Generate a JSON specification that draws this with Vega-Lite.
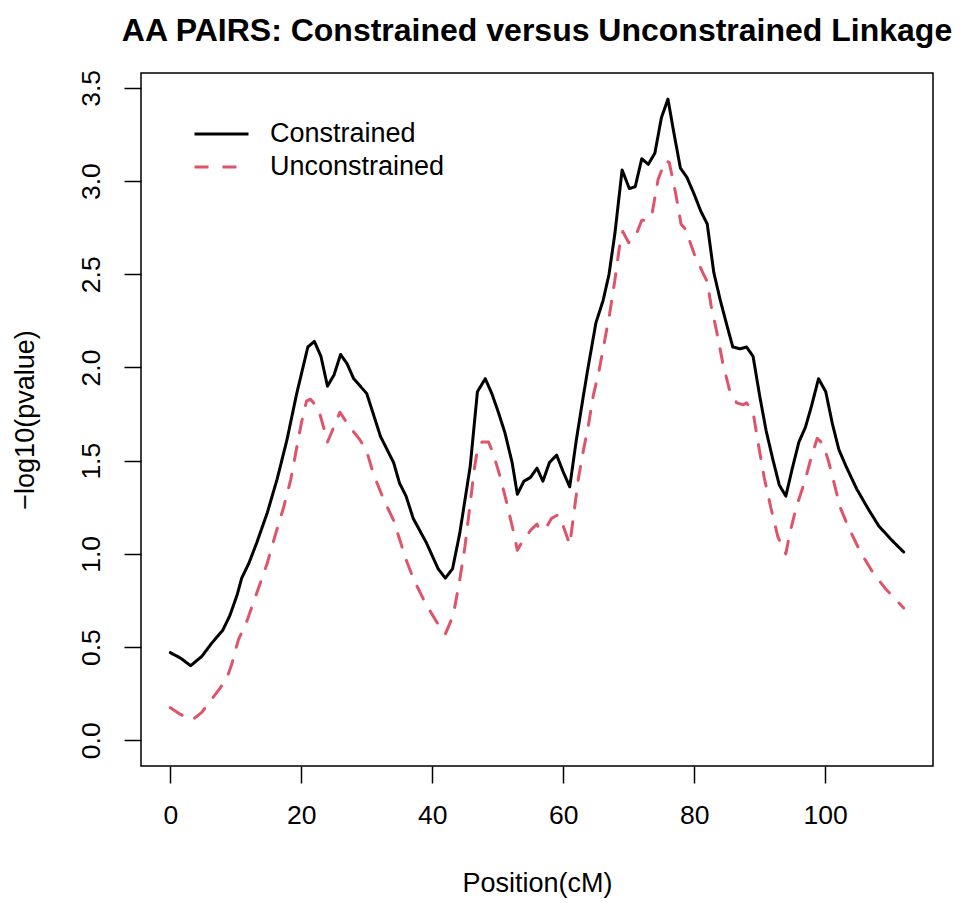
{
  "$schema": "https://vega.github.io/schema/vega-lite/v6.json",
  "width": 792,
  "height": 693,
  "autosize": "none",
  "padding": {"left": 141, "top": 73, "right": 35, "bottom": 137},
  "background": "white",
  "title": {
    "text": "AA PAIRS: Constrained versus Unconstrained Linkage",
    "font": "Liberation Sans",
    "fontSize": 32,
    "fontWeight": "bold",
    "color": "black",
    "anchor": "middle",
    "baseline": "alphabetic",
    "offset": 32,
    "dy": 36
  },
  "config": {
    "view": {"stroke": "black", "strokeWidth": 1.5},
    "axis": {
      "grid": false,
      "domain": false,
      "tickColor": "black",
      "tickWidth": 1.5,
      "tickSize": 17,
      "labelFont": "Liberation Sans",
      "labelFontSize": 26.5,
      "labelColor": "black",
      "titleFont": "Liberation Sans",
      "titleFontSize": 27,
      "titleFontWeight": "normal",
      "titleColor": "black"
    },
    "legend": {
      "orient": "none",
      "legendX": 65.5,
      "legendY": 46,
      "padding": 0,
      "symbolType": "M-2,0H2",
      "symbolSize": 729,
      "symbolStrokeWidth": 3,
      "labelFont": "Liberation Sans",
      "labelFontSize": 27,
      "labelColor": "black",
      "labelOffset": 33.5,
      "labelLimit": 400,
      "rowPadding": 5
    }
  },
  "data": {
    "values": [
      {"pos": 0, "val": 0.47, "series": "Constrained"},
      {"pos": 1.6, "val": 0.44, "series": "Constrained"},
      {"pos": 3.1, "val": 0.40, "series": "Constrained"},
      {"pos": 4.8, "val": 0.45, "series": "Constrained"},
      {"pos": 6.3, "val": 0.52, "series": "Constrained"},
      {"pos": 8.0, "val": 0.59, "series": "Constrained"},
      {"pos": 9.1, "val": 0.67, "series": "Constrained"},
      {"pos": 10.2, "val": 0.78, "series": "Constrained"},
      {"pos": 10.9, "val": 0.87, "series": "Constrained"},
      {"pos": 12.0, "val": 0.95, "series": "Constrained"},
      {"pos": 13.2, "val": 1.06, "series": "Constrained"},
      {"pos": 14.8, "val": 1.22, "series": "Constrained"},
      {"pos": 16.3, "val": 1.40, "series": "Constrained"},
      {"pos": 17.8, "val": 1.61, "series": "Constrained"},
      {"pos": 19.3, "val": 1.86, "series": "Constrained"},
      {"pos": 21.0, "val": 2.11, "series": "Constrained"},
      {"pos": 22.0, "val": 2.14, "series": "Constrained"},
      {"pos": 23.0, "val": 2.06, "series": "Constrained"},
      {"pos": 24.0, "val": 1.90, "series": "Constrained"},
      {"pos": 25.0, "val": 1.96, "series": "Constrained"},
      {"pos": 26.0, "val": 2.07, "series": "Constrained"},
      {"pos": 27.0, "val": 2.02, "series": "Constrained"},
      {"pos": 28.0, "val": 1.94, "series": "Constrained"},
      {"pos": 30.0, "val": 1.86, "series": "Constrained"},
      {"pos": 32.1, "val": 1.63, "series": "Constrained"},
      {"pos": 34.1, "val": 1.49, "series": "Constrained"},
      {"pos": 35.0, "val": 1.38, "series": "Constrained"},
      {"pos": 36.0, "val": 1.31, "series": "Constrained"},
      {"pos": 37.1, "val": 1.19, "series": "Constrained"},
      {"pos": 39.1, "val": 1.06, "series": "Constrained"},
      {"pos": 40.9, "val": 0.92, "series": "Constrained"},
      {"pos": 42.0, "val": 0.87, "series": "Constrained"},
      {"pos": 43.1, "val": 0.92, "series": "Constrained"},
      {"pos": 44.2, "val": 1.11, "series": "Constrained"},
      {"pos": 45.8, "val": 1.47, "series": "Constrained"},
      {"pos": 46.9, "val": 1.87, "series": "Constrained"},
      {"pos": 48.1, "val": 1.94, "series": "Constrained"},
      {"pos": 49.1, "val": 1.86, "series": "Constrained"},
      {"pos": 50.1, "val": 1.76, "series": "Constrained"},
      {"pos": 51.1, "val": 1.65, "series": "Constrained"},
      {"pos": 52.2, "val": 1.49, "series": "Constrained"},
      {"pos": 53.0, "val": 1.32, "series": "Constrained"},
      {"pos": 54.0, "val": 1.39, "series": "Constrained"},
      {"pos": 55.0, "val": 1.41, "series": "Constrained"},
      {"pos": 56.0, "val": 1.46, "series": "Constrained"},
      {"pos": 56.9, "val": 1.39, "series": "Constrained"},
      {"pos": 57.9, "val": 1.49, "series": "Constrained"},
      {"pos": 59.0, "val": 1.53, "series": "Constrained"},
      {"pos": 60.0, "val": 1.44, "series": "Constrained"},
      {"pos": 61.0, "val": 1.36, "series": "Constrained"},
      {"pos": 62.0, "val": 1.61, "series": "Constrained"},
      {"pos": 63.0, "val": 1.83, "series": "Constrained"},
      {"pos": 63.8, "val": 2.00, "series": "Constrained"},
      {"pos": 65.0, "val": 2.24, "series": "Constrained"},
      {"pos": 66.1, "val": 2.36, "series": "Constrained"},
      {"pos": 67.0, "val": 2.50, "series": "Constrained"},
      {"pos": 67.9, "val": 2.72, "series": "Constrained"},
      {"pos": 69.0, "val": 3.06, "series": "Constrained"},
      {"pos": 70.1, "val": 2.96, "series": "Constrained"},
      {"pos": 71.0, "val": 2.97, "series": "Constrained"},
      {"pos": 72.0, "val": 3.12, "series": "Constrained"},
      {"pos": 73.0, "val": 3.09, "series": "Constrained"},
      {"pos": 74.0, "val": 3.15, "series": "Constrained"},
      {"pos": 75.0, "val": 3.34, "series": "Constrained"},
      {"pos": 76.0, "val": 3.44, "series": "Constrained"},
      {"pos": 76.9, "val": 3.26, "series": "Constrained"},
      {"pos": 77.9, "val": 3.07, "series": "Constrained"},
      {"pos": 78.9, "val": 3.02, "series": "Constrained"},
      {"pos": 80.0, "val": 2.93, "series": "Constrained"},
      {"pos": 81.0, "val": 2.84, "series": "Constrained"},
      {"pos": 82.0, "val": 2.77, "series": "Constrained"},
      {"pos": 83.0, "val": 2.51, "series": "Constrained"},
      {"pos": 84.0, "val": 2.36, "series": "Constrained"},
      {"pos": 84.9, "val": 2.24, "series": "Constrained"},
      {"pos": 85.9, "val": 2.11, "series": "Constrained"},
      {"pos": 87.0, "val": 2.10, "series": "Constrained"},
      {"pos": 88.0, "val": 2.11, "series": "Constrained"},
      {"pos": 89.0, "val": 2.06, "series": "Constrained"},
      {"pos": 90.0, "val": 1.85, "series": "Constrained"},
      {"pos": 91.0, "val": 1.66, "series": "Constrained"},
      {"pos": 92.0, "val": 1.51, "series": "Constrained"},
      {"pos": 93.0, "val": 1.37, "series": "Constrained"},
      {"pos": 94.0, "val": 1.31, "series": "Constrained"},
      {"pos": 95.0, "val": 1.46, "series": "Constrained"},
      {"pos": 96.0, "val": 1.60, "series": "Constrained"},
      {"pos": 97.0, "val": 1.68, "series": "Constrained"},
      {"pos": 97.9, "val": 1.79, "series": "Constrained"},
      {"pos": 99.0, "val": 1.94, "series": "Constrained"},
      {"pos": 100.1, "val": 1.87, "series": "Constrained"},
      {"pos": 101.1, "val": 1.70, "series": "Constrained"},
      {"pos": 102.1, "val": 1.56, "series": "Constrained"},
      {"pos": 103.2, "val": 1.47, "series": "Constrained"},
      {"pos": 104.8, "val": 1.35, "series": "Constrained"},
      {"pos": 106.6, "val": 1.24, "series": "Constrained"},
      {"pos": 108.2, "val": 1.15, "series": "Constrained"},
      {"pos": 110.0, "val": 1.08, "series": "Constrained"},
      {"pos": 112.0, "val": 1.01, "series": "Constrained"},
      {"pos": 0, "val": 0.175, "series": "Unconstrained"},
      {"pos": 1.5, "val": 0.14, "series": "Unconstrained"},
      {"pos": 3.4, "val": 0.11, "series": "Unconstrained"},
      {"pos": 4.8, "val": 0.15, "series": "Unconstrained"},
      {"pos": 6.3, "val": 0.22, "series": "Unconstrained"},
      {"pos": 7.6, "val": 0.28, "series": "Unconstrained"},
      {"pos": 8.7, "val": 0.34, "series": "Unconstrained"},
      {"pos": 9.4, "val": 0.41, "series": "Unconstrained"},
      {"pos": 10.4, "val": 0.54, "series": "Unconstrained"},
      {"pos": 11.7, "val": 0.64, "series": "Unconstrained"},
      {"pos": 13.2, "val": 0.79, "series": "Unconstrained"},
      {"pos": 14.8, "val": 0.95, "series": "Unconstrained"},
      {"pos": 16.1, "val": 1.11, "series": "Unconstrained"},
      {"pos": 17.3, "val": 1.25, "series": "Unconstrained"},
      {"pos": 18.4, "val": 1.40, "series": "Unconstrained"},
      {"pos": 19.3, "val": 1.57, "series": "Unconstrained"},
      {"pos": 20.0, "val": 1.70, "series": "Unconstrained"},
      {"pos": 20.8, "val": 1.82, "series": "Unconstrained"},
      {"pos": 21.4, "val": 1.83, "series": "Unconstrained"},
      {"pos": 22.6, "val": 1.78, "series": "Unconstrained"},
      {"pos": 23.4, "val": 1.68, "series": "Unconstrained"},
      {"pos": 24.0, "val": 1.60, "series": "Unconstrained"},
      {"pos": 24.6, "val": 1.65, "series": "Unconstrained"},
      {"pos": 25.9, "val": 1.76, "series": "Unconstrained"},
      {"pos": 27.2, "val": 1.69, "series": "Unconstrained"},
      {"pos": 29.0, "val": 1.61, "series": "Unconstrained"},
      {"pos": 30.0, "val": 1.55, "series": "Unconstrained"},
      {"pos": 31.0, "val": 1.43, "series": "Unconstrained"},
      {"pos": 32.6, "val": 1.29, "series": "Unconstrained"},
      {"pos": 34.1, "val": 1.18, "series": "Unconstrained"},
      {"pos": 35.0, "val": 1.08, "series": "Unconstrained"},
      {"pos": 36.0, "val": 0.97, "series": "Unconstrained"},
      {"pos": 37.2, "val": 0.86, "series": "Unconstrained"},
      {"pos": 38.9, "val": 0.74, "series": "Unconstrained"},
      {"pos": 39.9, "val": 0.68, "series": "Unconstrained"},
      {"pos": 41.1, "val": 0.61, "series": "Unconstrained"},
      {"pos": 42.0, "val": 0.57, "series": "Unconstrained"},
      {"pos": 43.2, "val": 0.67, "series": "Unconstrained"},
      {"pos": 44.2, "val": 0.86, "series": "Unconstrained"},
      {"pos": 45.0, "val": 1.04, "series": "Unconstrained"},
      {"pos": 45.8, "val": 1.27, "series": "Unconstrained"},
      {"pos": 46.4, "val": 1.45, "series": "Unconstrained"},
      {"pos": 46.9, "val": 1.56, "series": "Unconstrained"},
      {"pos": 47.6, "val": 1.60, "series": "Unconstrained"},
      {"pos": 48.6, "val": 1.60, "series": "Unconstrained"},
      {"pos": 49.3, "val": 1.54, "series": "Unconstrained"},
      {"pos": 50.4, "val": 1.41, "series": "Unconstrained"},
      {"pos": 51.4, "val": 1.27, "series": "Unconstrained"},
      {"pos": 52.4, "val": 1.12, "series": "Unconstrained"},
      {"pos": 53.0, "val": 1.02, "series": "Unconstrained"},
      {"pos": 53.8, "val": 1.07, "series": "Unconstrained"},
      {"pos": 55.1, "val": 1.13, "series": "Unconstrained"},
      {"pos": 56.0, "val": 1.16, "series": "Unconstrained"},
      {"pos": 56.4, "val": 1.13, "series": "Unconstrained"},
      {"pos": 57.4, "val": 1.14, "series": "Unconstrained"},
      {"pos": 58.2, "val": 1.19, "series": "Unconstrained"},
      {"pos": 59.2, "val": 1.21, "series": "Unconstrained"},
      {"pos": 60.0, "val": 1.15, "series": "Unconstrained"},
      {"pos": 61.0, "val": 1.05, "series": "Unconstrained"},
      {"pos": 61.5, "val": 1.18, "series": "Unconstrained"},
      {"pos": 62.3, "val": 1.40, "series": "Unconstrained"},
      {"pos": 63.0, "val": 1.54, "series": "Unconstrained"},
      {"pos": 63.8, "val": 1.68, "series": "Unconstrained"},
      {"pos": 64.6, "val": 1.85, "series": "Unconstrained"},
      {"pos": 65.4, "val": 1.97, "series": "Unconstrained"},
      {"pos": 66.1, "val": 2.10, "series": "Unconstrained"},
      {"pos": 67.1, "val": 2.29, "series": "Unconstrained"},
      {"pos": 67.9, "val": 2.47, "series": "Unconstrained"},
      {"pos": 68.6, "val": 2.65, "series": "Unconstrained"},
      {"pos": 69.1, "val": 2.73, "series": "Unconstrained"},
      {"pos": 70.0, "val": 2.67, "series": "Unconstrained"},
      {"pos": 71.0, "val": 2.70, "series": "Unconstrained"},
      {"pos": 72.0, "val": 2.79, "series": "Unconstrained"},
      {"pos": 73.0, "val": 2.79, "series": "Unconstrained"},
      {"pos": 73.6, "val": 2.83, "series": "Unconstrained"},
      {"pos": 74.5, "val": 3.01, "series": "Unconstrained"},
      {"pos": 75.6, "val": 3.11, "series": "Unconstrained"},
      {"pos": 76.2, "val": 3.10, "series": "Unconstrained"},
      {"pos": 77.2, "val": 2.93, "series": "Unconstrained"},
      {"pos": 78.0, "val": 2.77, "series": "Unconstrained"},
      {"pos": 78.7, "val": 2.74, "series": "Unconstrained"},
      {"pos": 80.0, "val": 2.61, "series": "Unconstrained"},
      {"pos": 81.3, "val": 2.51, "series": "Unconstrained"},
      {"pos": 82.0, "val": 2.46, "series": "Unconstrained"},
      {"pos": 82.6, "val": 2.33, "series": "Unconstrained"},
      {"pos": 83.4, "val": 2.20, "series": "Unconstrained"},
      {"pos": 84.4, "val": 2.02, "series": "Unconstrained"},
      {"pos": 85.4, "val": 1.88, "series": "Unconstrained"},
      {"pos": 86.5, "val": 1.81, "series": "Unconstrained"},
      {"pos": 87.5, "val": 1.80, "series": "Unconstrained"},
      {"pos": 88.0, "val": 1.81, "series": "Unconstrained"},
      {"pos": 89.0, "val": 1.76, "series": "Unconstrained"},
      {"pos": 89.7, "val": 1.61, "series": "Unconstrained"},
      {"pos": 90.7, "val": 1.41, "series": "Unconstrained"},
      {"pos": 91.7, "val": 1.25, "series": "Unconstrained"},
      {"pos": 92.8, "val": 1.09, "series": "Unconstrained"},
      {"pos": 94.0, "val": 1.00, "series": "Unconstrained"},
      {"pos": 94.6, "val": 1.11, "series": "Unconstrained"},
      {"pos": 95.6, "val": 1.25, "series": "Unconstrained"},
      {"pos": 96.9, "val": 1.39, "series": "Unconstrained"},
      {"pos": 97.9, "val": 1.52, "series": "Unconstrained"},
      {"pos": 98.8, "val": 1.62, "series": "Unconstrained"},
      {"pos": 99.7, "val": 1.59, "series": "Unconstrained"},
      {"pos": 100.5, "val": 1.50, "series": "Unconstrained"},
      {"pos": 101.3, "val": 1.39, "series": "Unconstrained"},
      {"pos": 102.3, "val": 1.25, "series": "Unconstrained"},
      {"pos": 103.6, "val": 1.14, "series": "Unconstrained"},
      {"pos": 105.4, "val": 1.01, "series": "Unconstrained"},
      {"pos": 107.3, "val": 0.90, "series": "Unconstrained"},
      {"pos": 109.3, "val": 0.81, "series": "Unconstrained"},
      {"pos": 112.0, "val": 0.71, "series": "Unconstrained"}
    ]
  },
  "mark": {"type": "line", "strokeWidth": 3, "strokeCap": "round", "strokeJoin": "round", "clip": true},
  "encoding": {
    "x": {
      "field": "pos",
      "type": "quantitative",
      "scale": {"domain": [-4.48, 116.48], "nice": false, "zero": false},
      "axis": {
        "values": [0, 20, 40, 60, 80, 100],
        "title": "Position(cM)",
        "labelPadding": 19,
        "labelBaseline": "top",
        "titleY": 117,
        "titleBaseline": "middle",
        "titleAnchor": "middle"
      }
    },
    "y": {
      "field": "val",
      "type": "quantitative",
      "scale": {"domain": [-0.138, 3.58], "nice": false, "zero": false},
      "axis": {
        "values": [0, 0.5, 1, 1.5, 2, 2.5, 3, 3.5],
        "format": ".1f",
        "title": "−log10(pvalue)",
        "labelAngle": -90,
        "labelAlign": "center",
        "labelBaseline": "bottom",
        "labelPadding": 19,
        "titleAngle": -90,
        "titleX": -116,
        "titleY": 346.5,
        "titleAlign": "center",
        "titleBaseline": "middle"
      }
    },
    "color": {
      "field": "series",
      "type": "nominal",
      "scale": {"domain": ["Constrained", "Unconstrained"], "range": ["black", "#DF536B"]},
      "legend": {"title": null}
    },
    "strokeDash": {
      "field": "series",
      "type": "nominal",
      "scale": {"domain": ["Constrained", "Unconstrained"], "range": [[1, 0], [14, 14]]},
      "legend": {"title": null}
    }
  }
}
